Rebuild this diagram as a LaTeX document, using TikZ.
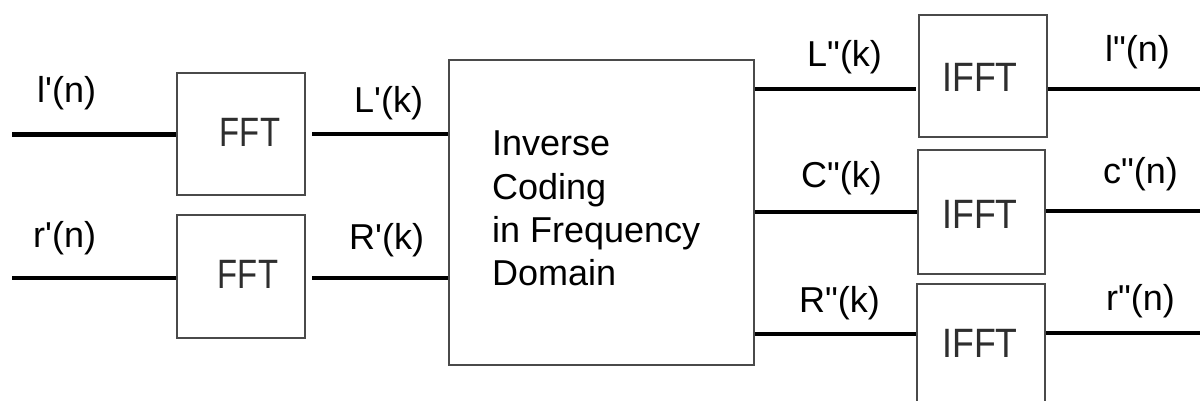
\documentclass[tikz,border=0pt]{standalone}
\usepackage{fontspec}
\setmainfont{Liberation Sans}
\definecolor{boxgray}{HTML}{4A4A4A}
\definecolor{fftgray}{HTML}{2E2E2E}
\newcommand\ap{\textquotesingle}
\newcommand\dq{\textquotedbl}
\begin{document}
\begin{tikzpicture}[x=1pt,y=-1pt,
  box/.style={draw=boxgray, line width=2pt, inner sep=0pt, anchor=north west},
  sig/.style={font=\fontsize{36}{43}\selectfont, inner sep=0pt, anchor=base west},
  ffttxt/.style={font=\fontsize{41}{41}\selectfont, text=fftgray, inner sep=0pt},
  wire/.style={draw=black, line width=#1},
  wire/.default=3.5pt]
\useasboundingbox (0,0) rectangle (1200,401);
\clip (0,0) rectangle (1200,401);
\fill[white] (0,0) rectangle (1200,401);

% transform blocks
\node[box, minimum width=128pt, minimum height=122pt] (fft1) at (176,72) {};
\node[box, minimum width=128pt, minimum height=123pt] (fft2) at (176,214) {};
\node[box, minimum width=305pt, minimum height=305pt] (inv) at (448,59) {};
\node[box, minimum width=128pt, minimum height=122pt] (ifft1) at (918,14) {};
\node[box, minimum width=127pt, minimum height=124pt] (ifft2) at (917,149) {};
\node[box, minimum width=128pt, minimum height=124pt] (ifft3) at (916,283) {};

\node[ffttxt] (tf1) at (250,132) {\scalebox{0.8}[1]{FFT}};
\node[ffttxt] (tf2) at (248,274) {\scalebox{0.8}[1]{FFT}};
\node[ffttxt] (ti1) at (980,77) {\scalebox{0.87}[1]{IFFT}};
\node[ffttxt] (ti2) at (980,214) {\scalebox{0.87}[1]{IFFT}};
\node[ffttxt] (ti3) at (980,343) {\scalebox{0.87}[1]{IFFT}};

\node[font=\fontsize{36}{43.3}\selectfont, align=left, inner sep=0pt, anchor=north west]
  (invtxt) at (492,131) {Inverse\\Coding\\in Frequency\\Domain};

% signal rows
\coordinate (lin) at (12,135);
\coordinate (rin) at (12,278);
\coordinate (yLk) at (0,134);
\coordinate (yRk) at (0,278);
\coordinate (yL2) at (0,89);
\coordinate (yC2) at (0,212);
\coordinate (yR2) at (0,334);
\coordinate (lout) at (1200,89);
\coordinate (cout) at (1200,211);
\coordinate (rout) at (1200,333);

\draw[wire=5pt] (lin) -- (lin -| fft1.west);
\draw[wire=4pt] (rin) -- (rin -| fft2.west);
\draw[wire=3.5pt, shorten <=6pt] (fft1.east |- yLk) -- (inv.west |- yLk);
\draw[wire=3.5pt, shorten <=6pt] (fft2.east |- yRk) -- (inv.west |- yRk);
\draw[wire=4.5pt, shorten >=2pt] (inv.east |- yL2) -- (ifft1.west |- yL2);
\draw[wire=4.5pt] (inv.east |- yC2) -- (ifft2.west |- yC2);
\draw[wire=4pt] (inv.east |- yR2) -- (ifft3.west |- yR2);
\draw[wire=4.5pt] (ifft1.east |- lout) -- (lout);
\draw[wire=3.5pt] (ifft2.east |- cout) -- (cout);
\draw[wire=4.5pt] (ifft3.east |- rout) -- (rout);

% signal names
\node[sig] (l1) at (37,103) {l\ap(n)};
\node[sig] (r1) at (33,247) {r\ap(n)};
\node[sig] (L1) at (354,113) {L\ap(k)};
\node[sig] (R1) at (349,249) {R\ap(k)};
\node[sig] (L2) at (807,67) {L\dq(k)};
\node[sig] (C2) at (801,187) {C\dq(k)};
\node[sig] (R2) at (799,312) {R\dq(k)};
\node[sig] (l2) at (1105,62) {l\dq(n)};
\node[sig] (c2) at (1103,183) {c\dq(n)};
\node[sig] (r2) at (1106,310) {r\dq(n)};
\end{tikzpicture}
\end{document}
